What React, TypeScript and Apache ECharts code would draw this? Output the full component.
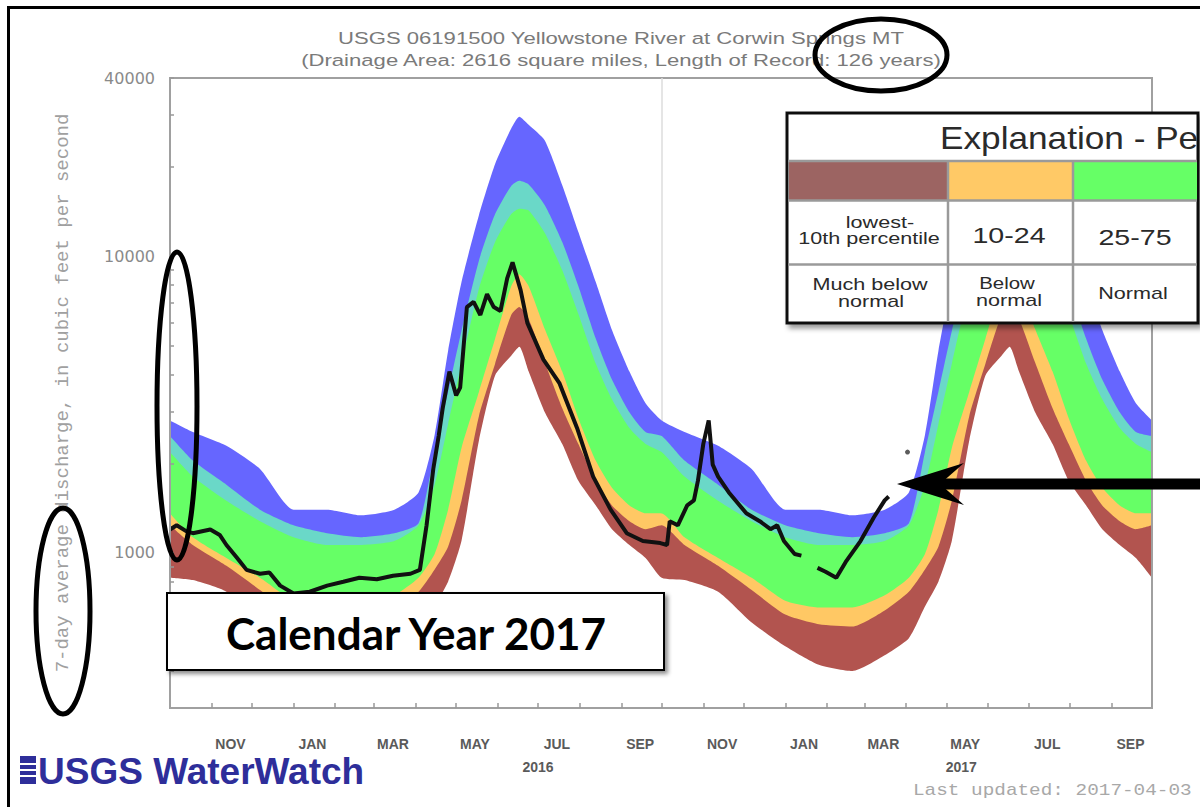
import React, { useEffect, useRef } from "react";
import * as echarts from "echarts";

// ---- Daily statistics (7-day average discharge, ft3/s), by day of the water year ----
const STAT_DAYS = ["10-01","10-18","11-12","12-07","01-01","01-26","02-20","03-16","04-03","04-15","04-25","05-05","05-18","05-30","06-11","06-17","06-24","07-06","07-19","07-31","08-13","08-25","09-07","09-19"];
const MAX_FLOW = [2800,2560,2300,1920,1400,1400,1340,1400,1600,2500,4800,8200,13800,20500,27000,29600,27800,24600,17400,12100,8180,5650,4090,3200];
const P90_FLOW = [2480,2050,1700,1400,1240,1166,1131,1166,1260,2190,3500,5610,9700,13900,17300,18000,17500,14900,11200,7940,5280,3850,2985,2560];
const P75_FLOW = [2190,1810,1500,1280,1130,1064,1064,1097,1240,1700,2720,4350,7800,11200,13900,14500,14300,12000,8980,6400,4350,3300,2640,2333];
const P25_FLOW = [1360,1130,962,825,690,655,655,720,825,992,1400,2260,3500,5280,7940,8710,7940,5700,4090,2850,2046,1660,1447,1361];
const P10_FLOW = [1240,1064,905,750,620,575,565,640,740,880,1050,1500,2900,4350,6350,6750,6150,4390,3080,2333,1754,1447,1280,1203];
const MIN_FLOW = [825,810,740,583,485,420,400,452,516,660,800,1100,2400,3970,4630,4960,4090,2985,2333,1754,1447,1203,1064,962];
const WATER_YEARS = [2016, 2017];
const STAT_END = "2017-10-01";

// ---- Observed 7-day average discharge ----
const OBS_DATES = ["2015-10-01","2015-10-06","2015-10-13","2015-10-18","2015-10-31","2015-11-07","2015-11-12","2015-11-20","2015-11-27","2015-12-07","2015-12-14","2015-12-22","2016-01-01","2016-01-13","2016-01-26","2016-02-07","2016-02-19","2016-03-03","2016-03-15","2016-03-28","2016-04-04","2016-04-09","2016-04-14","2016-04-18","2016-04-21","2016-04-26","2016-05-01","2016-05-04","2016-05-09","2016-05-14","2016-05-19","2016-05-24","2016-05-29","2016-06-03","2016-06-08","2016-06-12","2016-06-18","2016-06-23","2016-07-05","2016-07-17","2016-07-30","2016-08-11","2016-08-24","2016-09-05","2016-09-17","2016-09-30","2016-10-05","2016-10-07","2016-10-13","2016-10-20","2016-10-25","2016-10-28","2016-11-01","2016-11-05","2016-11-08","2016-11-12","2016-11-20","2016-12-03","2016-12-13","2016-12-21","2016-12-26","2016-12-31","2017-01-08","2017-01-13","2017-01-19","2017-01-25","2017-01-31","2017-02-08","2017-02-15","2017-02-26","2017-03-08","2017-03-16","2017-03-19"];
const OBS_FLOW = [1200,1240,1185,1166,1200,1150,1064,962,877,851,860,776,730,740,776,800,825,815,838,851,877,1240,1924,2480,3080,4090,3400,3610,6750,7030,6350,7470,6750,6550,8440,9550,7700,5970,4490,3730,2640,1810,1400,1166,1097,1080,1064,1280,1240,1447,1504,1754,2333,2800,1985,1810,1600,1361,1280,1203,1240,1097,992,980,null,891,864,825,933,1097,1320,1504,1550];
const LATEST_DATE = "2017-04-02";
const LATEST_FLOW = 2190;

// ---- Axes ----
const X_START = "2015-10-01";
const X_END = "2017-10-01";
const MONTH_LABEL_DATES = ["2015-11-15","2016-01-15","2016-03-15","2016-05-15","2016-07-15","2016-09-15","2016-11-15","2017-01-15","2017-03-15","2017-05-15","2017-07-15","2017-09-15"];
const MONTH_TICK_DATES = ["2015-11-01","2015-12-01","2016-01-01","2016-02-01","2016-03-01","2016-04-01","2016-05-01","2016-06-01","2016-07-01","2016-08-01","2016-09-01","2016-10-01","2016-11-01","2016-12-01","2017-01-01","2017-02-01","2017-03-01","2017-04-01","2017-05-01","2017-06-01","2017-07-01","2017-08-01","2017-09-01"];
const YEAR_LABEL_DATES = ["2016-07-01","2017-05-12"];
const MONTH_NAMES = ["JAN","FEB","MAR","APR","MAY","JUN","JUL","AUG","SEP","OCT","NOV","DEC"];
const Y_MIN = 300;
const Y_MAX = 40000;
const Y_LABELS = [1000, 10000, 40000];
const Y_TICKS = [400,500,600,700,800,900,1000,2000,3000,4000,5000,6000,7000,8000,9000,10000,20000,30000,40000];
const YEAR_BOUNDARY = "2016-10-01";

const TITLE_1 = "USGS 06191500 Yellowstone River at Corwin Springs MT";
const TITLE_2 = "(Drainage Area: 2616 square miles, Length of Record: 126 years)";
const Y_TITLE = "7-day average discharge, in cubic feet per second";

const ts = (s: string) => {
  const [y, m, d] = s.split("-").map(Number);
  return new Date(y, m - 1, d).getTime();
};

export default function App() {
  const ref = useRef<HTMLDivElement>(null);

  useEffect(() => {
    if (!ref.current) return;
    const chart = echarts.init(ref.current, undefined, { renderer: "svg" });

    const statDates: number[] = [];
    const idx: number[] = [];
    WATER_YEARS.forEach((wy) => {
      STAT_DAYS.forEach((md, i) => {
        const month = Number(md.slice(0, 2));
        const year = month >= 10 ? wy - 1 : wy;
        statDates.push(ts(`${year}-${md}`));
        idx.push(i);
      });
    });
    statDates.push(ts(STAT_END));
    idx.push(0);

    // each percentile curve is filled down to the axis floor; later curves paint over earlier ones
    const curve = (name: string, values: number[], color: string, extra: any = {}) => ({
      type: "line",
      name,
      symbol: "none",
      silent: true,
      smooth: 0.2,
      lineStyle: { width: 0 },
      areaStyle: { color, opacity: 1, origin: "start" },
      data: statDates.map((t, k) => [t, values[idx[k]]]),
      ...extra,
    });

    const txt = (text: string, x: number, y: number, font: string, fill: string, sx = 1, align = "center", z = 160) => ({
      type: "text",
      x,
      y,
      scaleX: sx,
      z,
      silent: true,
      style: { text, font, fill, align, verticalAlign: "middle" },
    });

    const legFont = '17px "Liberation Sans", Arial, sans-serif';
    const gray = "#9a9a9a";
    const frame = { show: true, lineStyle: { color: "#a0a0a0", width: 2 } };

    const option: any = {
      animation: false,
      backgroundColor: "#ffffff",
      grid: {
        left: 170,
        top: 78,
        right: 48,
        bottom: 99,
        show: true,
        borderColor: "#a0a0a0",
        borderWidth: 2,
        backgroundColor: "transparent",
        containLabel: false,
        outerBoundsMode: "none",
      },
      xAxis: [
        {
          type: "value",
          z: 5,
          min: ts(X_START),
          max: ts(X_END),
          axisLine: frame,
          splitLine: { show: false },
          axisTick: { inside: true, length: 5, lineStyle: { color: "#999", width: 1.5 }, customValues: MONTH_TICK_DATES.map(ts) },
          axisLabel: {
            customValues: MONTH_LABEL_DATES.map(ts),
            formatter: (v: number) => MONTH_NAMES[new Date(v).getMonth()],
            color: "#5a5a5a",
            fontSize: 14,
            fontWeight: "bold",
            fontFamily: '"Liberation Sans", Arial, sans-serif',
            margin: 29,
          },
        },
        {
          type: "value",
          position: "bottom",
          min: ts(X_START),
          max: ts(X_END),
          axisLine: { show: false },
          splitLine: { show: false },
          axisTick: { show: false },
          axisLabel: {
            customValues: YEAR_LABEL_DATES.map(ts),
            formatter: (v: number) => String(new Date(v).getFullYear()),
            color: "#5a5a5a",
            fontSize: 14,
            fontWeight: "bold",
            fontFamily: '"Liberation Sans", Arial, sans-serif',
            margin: 52,
          },
        },
      ],
      yAxis: [
        {
          type: "log",
          logBase: 10,
          z: 5,
          min: Y_MIN,
          max: Y_MAX,
          axisLine: frame,
          splitLine: { show: false },
          minorTick: { show: false },
          axisTick: { inside: true, length: 4, lineStyle: { color: "#999", width: 1.5 }, customValues: Y_TICKS },
          axisLabel: {
            customValues: Y_LABELS,
            formatter: (v: number) => String(Math.round(v)),
            color: "#8a8a8a",
            fontSize: 16,
            fontFamily: '"DejaVu Sans", sans-serif',
            margin: 15,
          },
          name: Y_TITLE,
          nameLocation: "middle",
          nameRotate: 90,
          nameGap: 98,
          nameMoveOverlap: false,
          nameTextStyle: { fontFamily: '"Liberation Mono", monospace', fontSize: 19, color: "#a0a0a0" },
        },
        {
          type: "log",
          logBase: 10,
          position: "right",
          z: 5,
          min: Y_MIN,
          max: Y_MAX,
          axisLine: frame,
          splitLine: { show: false },
          axisTick: { show: false },
          axisLabel: { show: false },
        },
      ],
      series: [
        curve("Much above normal", MAX_FLOW, "#6666FF", {
          markLine: {
            silent: true,
            symbol: "none",
            z: 1,
            label: { show: false },
            lineStyle: { color: "#dddddd", width: 1.5, type: "solid" },
            data: [{ xAxis: ts(YEAR_BOUNDARY) }],
          },
        }),
        curve("Above normal", P90_FLOW, "#6AD8C8"),
        curve("Normal", P75_FLOW, "#66FF66"),
        curve("Below normal", P25_FLOW, "#FFC864"),
        curve("Much below normal", P10_FLOW, "#B2544F"),
        curve("Minimum", MIN_FLOW, "#FFFFFF"),
        {
          type: "line",
          name: "Flow",
          symbol: "none",
          silent: true,
          z: 4,
          connectNulls: false,
          lineStyle: { color: "#111111", width: 4 },
          data: OBS_DATES.map((d, i) => [ts(d), OBS_FLOW[i] == null ? "-" : OBS_FLOW[i]]),
        },
        {
          type: "scatter",
          name: "Latest",
          silent: true,
          z: 4,
          symbolSize: 5,
          itemStyle: { color: "#333" },
          data: [[ts(LATEST_DATE), LATEST_FLOW]],
        },
      ],
      graphic: [
        txt(TITLE_1, 621, 38, '17px "Liberation Sans", Arial, sans-serif', "#7a7a7a", 1.3, "center", 100),
        txt(TITLE_2, 621, 60, '17px "Liberation Sans", Arial, sans-serif', "#7a7a7a", 1.3, "center", 100),
        { type: "rect", z: 100, silent: true, shape: { x: 20, y: 756, width: 16, height: 28 }, style: { fill: "#2E2E9A" } },
        { type: "line", z: 101, silent: true, shape: { x1: 20, y1: 764, x2: 36, y2: 764 }, style: { stroke: "#fff", lineWidth: 2 } },
        { type: "line", z: 101, silent: true, shape: { x1: 20, y1: 770, x2: 36, y2: 770 }, style: { stroke: "#fff", lineWidth: 2 } },
        { type: "line", z: 101, silent: true, shape: { x1: 20, y1: 776, x2: 36, y2: 776 }, style: { stroke: "#fff", lineWidth: 2 } },
        txt("USGS WaterWatch", 38, 771, 'bold 37px "Liberation Sans", Arial, sans-serif', "#2E2E9A", 1, "left", 100),
        txt("Last updated: 2017-04-03", 913, 790, '16px "Liberation Mono", monospace', "#a8a8a8", 1.21, "left", 100),
        { type: "rect", z: 150, silent: true, shape: { x: 167, y: 593, width: 497, height: 77 }, style: { fill: "#fff", stroke: "#000", lineWidth: 2, shadowBlur: 4, shadowColor: "rgba(0,0,0,0.45)", shadowOffsetX: 3, shadowOffsetY: 3 } },
        txt("Calendar Year 2017", 416, 633, 'bold 44px Lato, "Open Sans", sans-serif', "#000", 1.0, "center", 151),
        { type: "rect", z: 150, silent: true, shape: { x: 787, y: 113, width: 411, height: 210 }, style: { fill: "#fff", stroke: "#111", lineWidth: 3, shadowBlur: 5, shadowColor: "rgba(0,0,0,0.4)", shadowOffsetX: 3, shadowOffsetY: 4 } },
        { type: "rect", z: 151, silent: true, shape: { x: 789, y: 161, width: 159, height: 39 }, style: { fill: "#9C6462" } },
        { type: "rect", z: 151, silent: true, shape: { x: 948, y: 161, width: 125, height: 39 }, style: { fill: "#FFC966" } },
        { type: "rect", z: 151, silent: true, shape: { x: 1073, y: 161, width: 124, height: 39 }, style: { fill: "#66FF66" } },
        { type: "line", z: 152, silent: true, shape: { x1: 788, y1: 161, x2: 1197, y2: 161 }, style: { stroke: gray, lineWidth: 2.5 } },
        { type: "line", z: 152, silent: true, shape: { x1: 788, y1: 200.5, x2: 1197, y2: 200.5 }, style: { stroke: gray, lineWidth: 2.5 } },
        { type: "line", z: 152, silent: true, shape: { x1: 788, y1: 264.5, x2: 1197, y2: 264.5 }, style: { stroke: gray, lineWidth: 2.5 } },
        { type: "line", z: 152, silent: true, shape: { x1: 948, y1: 161, x2: 948, y2: 322 }, style: { stroke: gray, lineWidth: 2.5 } },
        { type: "line", z: 152, silent: true, shape: { x1: 1073, y1: 161, x2: 1073, y2: 322 }, style: { stroke: gray, lineWidth: 2.5 } },
        txt("Explanation - Pe", 940, 138, '32px "Liberation Sans", Arial, sans-serif', "#2a2a2a", 1.1, "left", 153),
        txt("lowest-", 880, 222, legFont, "#2a2a2a", 1.27),
        txt("10th percentile", 869, 238, legFont, "#2a2a2a", 1.27),
        txt("10-24", 1009, 235, '22px "Liberation Sans", Arial, sans-serif', "#2a2a2a", 1.3),
        txt("25-75", 1135, 237, '22px "Liberation Sans", Arial, sans-serif', "#2a2a2a", 1.3),
        txt("Much below", 870, 284, legFont, "#2a2a2a", 1.27),
        txt("normal", 871, 301, legFont, "#2a2a2a", 1.27),
        txt("Below", 1007, 283, legFont, "#2a2a2a", 1.2),
        txt("normal", 1009, 300, legFont, "#2a2a2a", 1.27),
        txt("Normal", 1133, 293, legFont, "#2a2a2a", 1.27),
        { type: "ellipse", z: 300, silent: true, shape: { cx: 881, cy: 55, rx: 66, ry: 36 }, style: { fill: "none", stroke: "#000", lineWidth: 5 } },
        { type: "ellipse", z: 300, silent: true, shape: { cx: 177, cy: 406, rx: 20, ry: 154 }, style: { fill: "none", stroke: "#000", lineWidth: 5 } },
        { type: "ellipse", z: 300, silent: true, shape: { cx: 63, cy: 611, rx: 27, ry: 103 }, style: { fill: "none", stroke: "#000", lineWidth: 5 } },
        { type: "line", z: 300, silent: true, shape: { x1: 936, y1: 484, x2: 1215, y2: 484 }, style: { stroke: "#000", lineWidth: 11 } },
        { type: "polygon", z: 301, silent: true, shape: { points: [[897, 484], [964, 463], [940, 484], [964, 505]] }, style: { fill: "#000" } },
        { type: "rect", z: 400, silent: true, shape: { x: 8.5, y: 7.5, width: 1300, height: 900 }, style: { fill: "none", stroke: "#000", lineWidth: 3 } },
      ],
    };

    chart.setOption(option);
    return () => chart.dispose();
  }, []);

  return (
    <div
      ref={ref}
      style={{ position: "fixed", left: 0, top: 0, width: 1200, height: 807, background: "#fff" }}
    />
  );
}
